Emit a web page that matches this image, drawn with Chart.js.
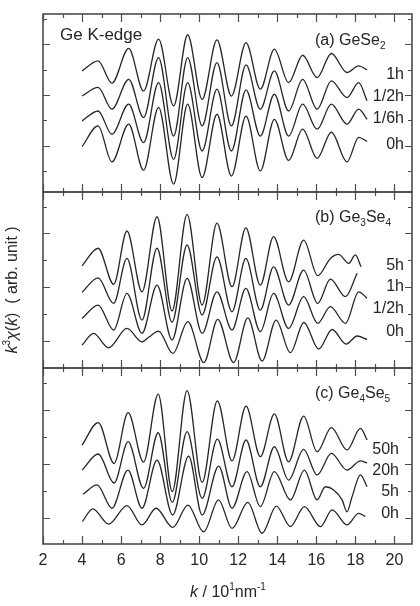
<!DOCTYPE html>
<html>
<head>
<meta charset="utf-8">
<script src="https://cdn.jsdelivr.net/npm/chart.js@4.4.1/dist/chart.umd.min.js"></script>
<style>
  html, body { margin: 0; padding: 0; background: #fff; }
  #wrap { position: relative; width: 420px; height: 606px; overflow: hidden; }
  canvas { position: absolute; left: 0; }
</style>
</head>
<body>
<div id="wrap">
  <canvas id="pa" width="420" height="200" style="top:0px"></canvas>
  <canvas id="pb" width="420" height="192" style="top:184px"></canvas>
  <canvas id="pc" width="420" height="246" style="top:360px"></canvas>
</div>
<script>
// x axis
const xTicks = [2, 4, 6, 8, 10, 12, 14, 16, 18, 20];

// (a) GeSe2 -- k positions of the extrema, then the curves (offset included)
const kA = [4.0, 4.82, 5.53, 6.39, 7.15, 7.92, 8.69, 9.41, 10.15, 10.91, 11.65, 12.40, 13.13, 13.85, 14.58, 15.30, 16.04, 16.77, 17.57, 18.17, 18.6];
const a1h  = [3.95, 4.35, 3.47, 4.84, 3.16, 5.21, 2.57, 5.38, 2.83, 5.18, 2.96, 5.07, 3.23, 4.81, 3.49, 4.57, 3.69, 4.64, 3.89, 4.15, 3.99];
const a12h = [2.96, 3.30, 2.44, 3.62, 2.11, 4.48, 1.38, 4.48, 1.78, 4.28, 1.78, 4.19, 2.44, 3.95, 2.37, 3.62, 2.44, 3.56, 2.90, 3.49, 2.77];
const a16h = [1.98, 2.37, 1.45, 2.64, 1.12, 3.49, 0.46, 3.49, 0.79, 3.23, 0.79, 3.20, 1.38, 3.03, 1.38, 2.64, 1.65, 2.64, 1.85, 2.44, 2.04];
const a0h  = [0.96, 1.78, 0.36, 1.85, 0.03, 2.51, -0.52, 2.64, -0.26, 2.24, -0.20, 2.17, 0.0, 2.04, 0.42, 1.65, 0.50, 1.53, 0.36, 1.33, 1.17];

// (b) Ge3Se4
const kB5h = [4.0, 4.82, 5.62, 6.30, 7.07, 7.84, 8.61, 9.38, 10.15, 10.91, 11.68, 12.39, 13.13, 13.81, 14.58, 15.35, 16.07, 16.72, 17.14, 17.66, 18.0, 18.29];
const b5h  = [2.80, 3.45, 2.11, 4.09, 1.83, 4.62, 1.12, 4.71, 1.34, 4.38, 2.02, 4.21, 2.08, 3.88, 2.20, 3.75, 2.43, 3.07, 3.22, 2.89, 3.20, 2.76];
const kB1h = [4.0, 4.82, 5.62, 6.30, 7.07, 7.84, 8.61, 9.38, 10.15, 10.91, 11.68, 12.39, 13.13, 13.81, 14.58, 15.35, 16.07, 16.72, 17.49, 18.09];
const b1h  = [1.81, 2.35, 1.40, 3.07, 0.78, 3.45, 0.70, 3.57, 0.97, 3.13, 1.09, 3.07, 1.15, 2.76, 1.34, 2.64, 1.40, 2.30, 1.65, 2.52];
const kB12h = [4.0, 4.82, 5.62, 6.30, 7.07, 7.84, 8.61, 9.38, 10.15, 10.91, 11.68, 12.39, 13.13, 13.81, 14.58, 15.35, 16.07, 16.72, 17.49, 18.17, 18.6];
const b12h  = [0.84, 1.34, 0.41, 1.77, 0.29, 2.08, 0.04, 2.33, 0.29, 1.83, 0.41, 1.96, 0.35, 1.77, 0.47, 1.65, 0.66, 1.28, 0.66, 1.83, 1.59];
const kB0h = [4.0, 4.59, 5.36, 6.30, 7.07, 7.41, 7.92, 8.65, 9.42, 10.24, 10.95, 11.76, 12.49, 13.22, 13.94, 14.67, 15.36, 16.12, 16.81, 17.53, 18.09, 18.6];
const b0h  = [-0.15, 0.29, -0.25, 0.47, -0.03, 0.14, 0.37, -0.46, 0.72, -0.80, 0.81, -0.80, 0.86, -0.74, 0.78, -0.43, 0.69, -0.30, 0.43, -0.11, 0.19, 0.06];

// (c) Ge4Se5
const kC = [4.0, 4.83, 5.64, 6.36, 7.15, 7.90, 8.62, 9.38, 10.15, 10.93, 11.68, 12.40, 13.13, 13.85, 14.58, 15.35, 16.04, 16.77, 17.57, 18.26, 18.6];
const c50h = [2.70, 3.54, 2.02, 3.91, 2.07, 4.60, 0.97, 4.73, 1.31, 4.35, 2.11, 4.15, 2.27, 3.86, 2.08, 3.78, 2.45, 3.35, 2.52, 3.32, 2.89];
const c20h = [1.77, 2.37, 1.29, 2.83, 1.09, 3.16, 0.57, 3.20, 0.72, 2.92, 1.15, 2.89, 1.15, 2.64, 1.40, 2.54, 1.59, 2.39, 1.77, 2.11, 2.04];
const kC5h = [4.05, 4.77, 5.53, 6.35, 7.07, 7.84, 8.64, 9.46, 10.15, 11.0, 11.68, 12.45, 13.13, 13.85, 14.67, 15.39, 16.04, 16.46, 16.89, 17.32, 17.57, 17.83, 18.26, 18.6];
const c5h  = [0.87, 1.22, 0.35, 1.77, 0.35, 2.14, 0.10, 2.29, 0.10, 1.92, 0.35, 1.71, 0.41, 1.71, 0.66, 1.77, 0.66, 1.15, 1.03, 0.66, 0.22, 0.78, 1.59, 1.15];
const kC0h = [4.02, 4.55, 5.36, 6.30, 7.07, 7.79, 8.65, 9.42, 10.23, 10.99, 11.68, 12.49, 13.22, 13.95, 14.67, 15.39, 16.21, 16.81, 17.57, 18.17, 18.51];
const c0h  = [-0.14, 0.33, -0.24, 0.45, -0.27, 0.35, -0.36, 0.47, -0.53, 0.66, -0.40, 0.57, -0.58, 0.43, -0.33, 0.41, -0.33, 0.29, -0.27, 0.16, 0.04];

const ink = '#262626';
const frameColor = '#4d4d4d';
const fam = '"Liberation Sans", Arial, sans-serif';

function font(size, italic) {
    return (italic ? 'italic ' : '') + size + 'px ' + fam;
}

// draw text made of pieces (sub/superscripts, italic letters)
function rich(ctx, parts, x, y, align) {
    let w = 0;
    parts.forEach((p) => {
        ctx.font = font(p.s || 16, p.i);
        w += ctx.measureText(p.t).width;
    });
    let cx = align === 'right' ? x - w : align === 'center' ? x - w / 2 : x;
    parts.forEach((p) => {
        ctx.font = font(p.s || 16, p.i);
        ctx.fillText(p.t, cx, y + (p.dy || 0));
        cx += ctx.measureText(p.t).width;
    });
}

function pts(k, v) {
    return k.map((kk, i) => ({ x: kk, y: v[i] }));
}

function framePlugin(cfg) {
    return {
        id: 'frame',
        afterDraw(chart) {
            const ctx = chart.ctx;
            const { left, right, top, bottom } = chart.chartArea;
            const x = chart.scales.x;
            const y = chart.scales.y;
            ctx.save();
            ctx.strokeStyle = frameColor;
            ctx.lineWidth = 1.2;
            ctx.beginPath();
            for (let v = xTicks[0]; v <= xTicks[xTicks.length - 1]; v++) {
                const px = Math.round(x.getPixelForValue(v)) + 0.5;
                const len = xTicks.includes(v) ? 8 : 4;
                ctx.moveTo(px, bottom); ctx.lineTo(px, bottom - len);
                ctx.moveTo(px, top); ctx.lineTo(px, top + len);
            }
            cfg.yTicks.forEach((v) => {
                const py = Math.round(y.getPixelForValue(v)) + 0.5;
                const len = cfg.yMajor.includes(v) ? 7 : 4;
                ctx.moveTo(left, py); ctx.lineTo(left + len, py);
                ctx.moveTo(right, py); ctx.lineTo(right - len, py);
            });
            ctx.stroke();
            ctx.lineWidth = 1.6;
            ctx.strokeRect(left, top, right - left, bottom - top);

            ctx.fillStyle = ink;
            ctx.textBaseline = 'middle';
            // panel title
            rich(ctx, cfg.title, 315, top + cfg.titleDy, 'left');
            // curve labels
            cfg.series.forEach((s, i) => {
                ctx.font = font(16);
                ctx.textAlign = 'left';
                rich(ctx, [{ t: s.name }], cfg.labelX, y.getPixelForValue(cfg.labelAt[i]), 'right');
            });
            if (cfg.extra) cfg.extra(ctx, chart);
            ctx.restore();
        }
    };
}

function panel(id, cfg) {
    const datasets = cfg.series.map((s) => ({
        label: s.name,
        data: pts(s.k, s.v),
        borderColor: ink,
        borderWidth: 1.3,
        pointRadius: 0,
        fill: false,
        cubicInterpolationMode: 'monotone'
    }));
    return new Chart(document.getElementById(id), {
        type: 'line',
        data: { datasets },
        options: {
            responsive: false,
            animation: false,
            layout: { padding: cfg.pad },
            plugins: { legend: { display: false }, tooltip: { enabled: false } },
            scales: {
                x: { type: 'linear', min: 2, max: 20.9, display: false },
                y: { type: 'linear', min: cfg.yMin, max: cfg.yMax, display: false }
            }
        },
        plugins: [framePlugin(cfg)]
    });
}

panel('pa', {
    pad: { top: 14, left: 43, right: 8, bottom: 8 },
    yMin: -0.83, yMax: 6.2,
    yTicks: [0, 1, 2, 3, 4, 5, 6], yMajor: [1, 3, 5],
    title: [{ t: '(a) GeSe' }, { t: '2', s: 10, dy: 5 }],
    titleDy: 27,
    labelX: 404, labelAt: [3.8, 2.95, 2.05, 1.05],
    series: [
        { name: '1h', k: kA, v: a1h },
        { name: '1/2h', k: kA, v: a12h },
        { name: '1/6h', k: kA, v: a16h },
        { name: '0h', k: kA, v: a0h }
    ],
    extra(ctx, chart) {
        ctx.font = font(17);
        ctx.textAlign = 'left';
        ctx.fillText('Ge K-edge', 60, chart.chartArea.top + 21);
    }
});

panel('pb', {
    pad: { top: 8, left: 43, right: 8, bottom: 8 },
    yMin: -1.0, yMax: 5.54,
    yTicks: [0, 1, 2, 3, 4, 5], yMajor: [0, 2, 4],
    title: [{ t: '(b) Ge' }, { t: '3', s: 10, dy: 5 }, { t: 'Se' }, { t: '4', s: 10, dy: 5 }],
    titleDy: 26,
    labelX: 404, labelAt: [2.79, 2.02, 1.19, 0.35],
    series: [
        { name: '5h', k: kB5h, v: b5h },
        { name: '1h', k: kB1h, v: b1h },
        { name: '1/2h', k: kB12h, v: b12h },
        { name: '0h', k: kB0h, v: b0h }
    ],
    extra(ctx) {
        // y axis title, rotated
        ctx.save();
        ctx.translate(13, 290 - 184);
        ctx.rotate(-Math.PI / 2);
        rich(ctx, [
            { t: 'k', i: true }, { t: '3', s: 10, dy: -6 }, { t: 'χ', i: true }, { t: '(' },
            { t: 'k', i: true }, { t: ')  ( arb. unit )' }
        ], 0, 0, 'center');
        ctx.restore();
    }
});

panel('pc', {
    pad: { top: 8, left: 43, right: 8, bottom: 62 },
    yMin: -0.98, yMax: 5.57,
    yTicks: [0, 1, 2, 3, 4, 5], yMajor: [0, 2, 4],
    title: [{ t: '(c) Ge' }, { t: '4', s: 10, dy: 5 }, { t: 'Se' }, { t: '5', s: 10, dy: 5 }],
    titleDy: 26,
    labelX: 399, labelAt: [2.54, 1.77, 0.97, 0.14],
    series: [
        { name: '50h', k: kC, v: c50h },
        { name: '20h', k: kC, v: c20h },
        { name: '5h', k: kC5h, v: c5h },
        { name: '0h', k: kC0h, v: c0h }
    ],
    extra(ctx, chart) {
        const x = chart.scales.x;
        const bottom = chart.chartArea.bottom;
        ctx.font = font(16);
        ctx.textAlign = 'center';
        xTicks.forEach((v) => ctx.fillText(String(v), x.getPixelForValue(v), bottom + 17));
        ctx.textAlign = 'left';
        rich(ctx, [
            { t: 'k', i: true }, { t: ' / 10' }, { t: '1', s: 10, dy: -6 },
            { t: 'nm' }, { t: '-1', s: 10, dy: -6 }
        ], 228, bottom + 49, 'center');
    }
});
</script>
</body>
</html>
